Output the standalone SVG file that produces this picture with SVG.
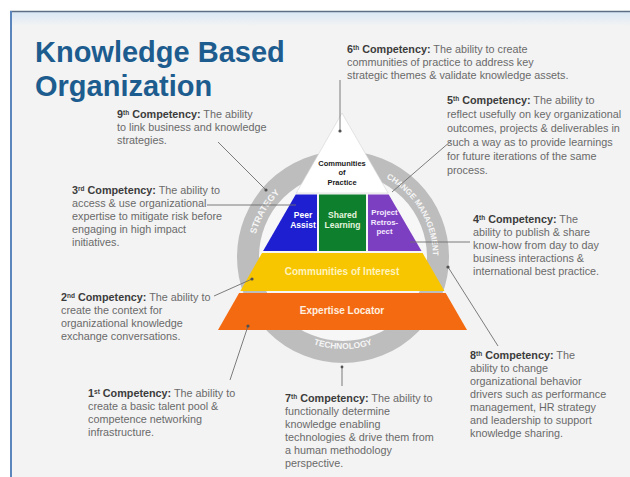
<svg xmlns="http://www.w3.org/2000/svg" width="630" height="477" viewBox="0 0 630 477">
<defs>
<linearGradient id="topfade" x1="0" y1="0" x2="0" y2="1">
<stop offset="0" stop-color="#d9e7f4"/><stop offset="1" stop-color="#f3f3f3"/>
</linearGradient>
<path id="arcStrategy" d="M254.4,272.6 A90,90 0 0 1 312.2,172.4"/>
<path id="arcChange" d="M343,167 A90,90 0 0 1 424.6,295"/>
<path id="arcTech" d="M290.2,332.4 A92,92 0 0 0 395.8,332.4"/>
</defs>
<style>
.t{font-family:"Liberation Sans",Arial,sans-serif;font-size:10.8px;fill:#6a6a6a}
.b{font-weight:bold;fill:#3c3c3c}
.sup{font-size:6.5px}
.ln{stroke:#6e6e6e;stroke-width:0.9;fill:none}
.dot{fill:#505050}
.pl{font-family:"Liberation Sans",Arial,sans-serif;font-weight:bold;text-anchor:middle}
.rt{font-family:"Liberation Sans",Arial,sans-serif;font-weight:bold;fill:#f6f6f6}
</style>
<rect width="630" height="477" fill="#ffffff"/>
<rect x="10" y="11" width="620" height="466" fill="#f3f3f3"/>
<rect x="10" y="12" width="620" height="14" fill="url(#topfade)"/>
<line x1="10" y1="11.5" x2="630" y2="11.5" stroke="#5d6f82" stroke-width="1.5"/>
<line x1="11" y1="11" x2="11" y2="477" stroke="#5b86bd" stroke-width="2"/>

<g id="title">
<text x="35" y="62" font-family="Liberation Sans, Arial, sans-serif" font-weight="bold" font-size="29" fill="#1d5c8e">Knowledge Based</text>
<text x="35" y="96" font-family="Liberation Sans, Arial, sans-serif" font-weight="bold" font-size="29" fill="#1d5c8e">Organization</text>
</g>

<g id="ring">
<circle cx="343" cy="257" r="84" fill="#f7f7f7"/>
<circle cx="343" cy="257" r="95" fill="none" stroke="#bdbdbd" stroke-width="22"/>
<text class="rt" font-size="9" text-anchor="middle"><textPath href="#arcStrategy" startOffset="50%">STRATEGY</textPath></text>
<text class="rt" font-size="8"><textPath href="#arcChange" startOffset="45">CHANGE</textPath></text>
<text class="rt" font-size="8"><textPath href="#arcChange" startOffset="82">MANAGEMENT</textPath></text>
<text class="rt" font-size="8.5" text-anchor="middle"><textPath href="#arcTech" startOffset="50%">TECHNOLOGY</textPath></text>
</g>

<g id="pyramid">
<g id="practice">
<polygon points="342,113 388.1,193 296.3,193" fill="#ffffff" stroke="#d4d4d4" stroke-width="0.6"/>
<text class="pl" font-size="7.5" fill="#1a1a1a"><tspan x="342" y="166">Communities</tspan><tspan x="342" y="175">of</tspan><tspan x="342" y="185">Practice</tspan></text>
</g>
<g id="peer-assist">
<polygon points="295.7,194.5 317,194.5 317,251 263.1,251" fill="#1f1fd2"/>
<text class="pl" font-size="8.5" fill="#ffffff"><tspan x="303" y="218">Peer</tspan><tspan x="303" y="228">Assist</tspan></text>
</g>
<g id="shared-learning">
<polygon points="319,194.5 366,194.5 366,251 319,251" fill="#0d7f2d"/>
<text class="pl" font-size="8.5" fill="#e4f4de"><tspan x="342.5" y="218">Shared</tspan><tspan x="342.5" y="228">Learning</tspan></text>
</g>
<g id="project-retrospect">
<polygon points="368,194.5 388.7,194.5 421.5,251 368,251" fill="#7d3fc2"/>
<text class="pl" font-size="7.8" fill="#f4eaff"><tspan x="384.5" y="215">Project</tspan><tspan x="384.5" y="224.5">Retros-</tspan><tspan x="384.5" y="234">pect</tspan></text>
</g>
<g id="interest">
<polygon points="262,253 422.6,253 444.5,291 240.3,291" fill="#f7c600"/>
<text class="pl" x="342" y="275" font-size="10" fill="#fff3bf">Communities of Interest</text>
</g>
<g id="expertise">
<polygon points="239.1,293 445.7,293 467,330 218,330" fill="#f46a10"/>
<text class="pl" x="342" y="314" font-size="10" fill="#fff0e0">Expertise Locator</text>
</g>
</g>

<g id="connectors">
<line class="ln" x1="340" y1="80" x2="340" y2="131"/><circle class="dot" cx="340" cy="131" r="1.6"/>
<line class="ln" x1="218" y1="142" x2="266" y2="190"/><circle class="dot" cx="266" cy="190" r="1.6"/>
<line class="ln" x1="207" y1="205" x2="296" y2="205"/>
<line class="ln" x1="214" y1="296" x2="252" y2="279"/><circle class="dot" cx="252" cy="279" r="1.6"/>
<line class="ln" x1="230" y1="380" x2="248" y2="326"/><circle class="dot" cx="248" cy="326" r="1.6"/>
<line class="ln" x1="342" y1="386" x2="342" y2="367"/><circle class="dot" cx="342" cy="367" r="1.4"/>
<line class="ln" x1="451" y1="141" x2="392" y2="192"/>
<line class="ln" x1="470" y1="242" x2="410" y2="242"/>
<line class="ln" x1="448" y1="267" x2="498" y2="346"/><circle class="dot" cx="448" cy="267" r="1.6"/>
</g>

<g id="c6">
<text class="t"><tspan x="347" y="53"><tspan class="b">6<tspan class="sup" baseline-shift="super">th</tspan> Competency:</tspan> The ability to create</tspan><tspan x="347" y="66">communities of practice to address key</tspan><tspan x="347" y="79">strategic themes &amp; validate knowledge assets.</tspan></text>
</g>
<g id="c9">
<text class="t"><tspan x="117" y="118"><tspan class="b">9<tspan class="sup" baseline-shift="super">th</tspan> Competency:</tspan> The ability</tspan><tspan x="117" y="131">to link business and knowledge</tspan><tspan x="117" y="144">strategies.</tspan></text>
</g>
<g id="c5">
<text class="t"><tspan x="447" y="104"><tspan class="b">5<tspan class="sup" baseline-shift="super">th</tspan> Competency:</tspan> The ability to</tspan><tspan x="447" y="118">reflect usefully on key organizational</tspan><tspan x="447" y="132">outcomes, projects &amp; deliverables in</tspan><tspan x="447" y="146">such a way as to provide learnings</tspan><tspan x="447" y="160">for future iterations of the same</tspan><tspan x="447" y="174">process.</tspan></text>
</g>
<g id="c3">
<text class="t"><tspan x="72" y="194"><tspan class="b">3<tspan class="sup" baseline-shift="super">rd</tspan> Competency:</tspan> The ability to</tspan><tspan x="72" y="207">access &amp; use organizational</tspan><tspan x="72" y="220">expertise to mitigate risk before</tspan><tspan x="72" y="233">engaging in high impact</tspan><tspan x="72" y="246">initiatives.</tspan></text>
</g>
<g id="c4">
<text class="t"><tspan x="473" y="223"><tspan class="b">4<tspan class="sup" baseline-shift="super">th</tspan> Competency:</tspan> The</tspan><tspan x="473" y="236">ability to publish &amp; share</tspan><tspan x="473" y="249">know-how from day to day</tspan><tspan x="473" y="262">business interactions &amp;</tspan><tspan x="473" y="275">international best practice.</tspan></text>
</g>
<g id="c2">
<text class="t"><tspan x="61" y="301"><tspan class="b">2<tspan class="sup" baseline-shift="super">nd</tspan> Competency:</tspan> The ability to</tspan><tspan x="61" y="314">create the context for</tspan><tspan x="61" y="327">organizational knowledge</tspan><tspan x="61" y="340">exchange conversations.</tspan></text>
</g>
<g id="c1">
<text class="t"><tspan x="88" y="397"><tspan class="b">1<tspan class="sup" baseline-shift="super">st</tspan> Competency:</tspan> The ability to</tspan><tspan x="88" y="410">create a basic talent pool &amp;</tspan><tspan x="88" y="423">competence networking</tspan><tspan x="88" y="436">infrastructure.</tspan></text>
</g>
<g id="c7">
<text class="t"><tspan x="285" y="402"><tspan class="b">7<tspan class="sup" baseline-shift="super">th</tspan> Competency:</tspan> The ability to</tspan><tspan x="285" y="415">functionally determine</tspan><tspan x="285" y="428">knowledge enabling</tspan><tspan x="285" y="441">technologies &amp; drive them from</tspan><tspan x="285" y="454">a human methodology</tspan><tspan x="285" y="467">perspective.</tspan></text>
</g>
<g id="c8">
<text class="t"><tspan x="470" y="359"><tspan class="b">8<tspan class="sup" baseline-shift="super">th</tspan> Competency:</tspan> The</tspan><tspan x="470" y="372">ability to change</tspan><tspan x="470" y="385">organizational behavior</tspan><tspan x="470" y="398">drivers such as performance</tspan><tspan x="470" y="411">management, HR strategy</tspan><tspan x="470" y="424">and leadership to support</tspan><tspan x="470" y="437">knowledge sharing.</tspan></text>
</g>
</svg>
